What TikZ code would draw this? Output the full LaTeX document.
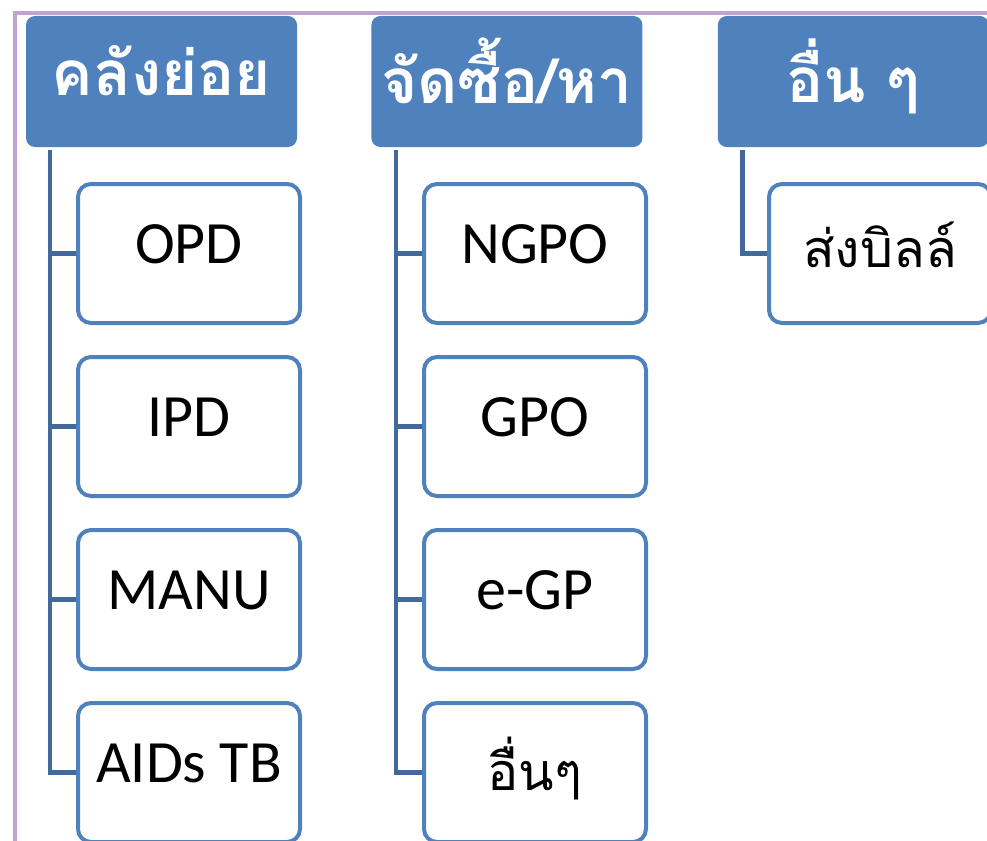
\documentclass[tikz,border=0pt]{standalone}
\usepackage{fontspec}
\setmainfont{Carlito}
\newfontfamily\thaifont[Script=Thai]{Loma}
\usetikzlibrary{positioning}
\definecolor{hdblue}{HTML}{4F81BD}
\definecolor{lnblue}{HTML}{41699C}
\definecolor{frame}{HTML}{BFA3D3}
\begin{document}
\begin{tikzpicture}[x=1pt, y=-1pt, node distance=30pt]
            % styles
            \tikzstyle{header} = [rectangle, rounded corners=9pt, minimum width=271pt, minimum height=131pt, text depth=22pt, fill=hdblue, text=white, font=\thaifont\bfseries\fontsize{62}{68}\selectfont]
            \tikzstyle{item} = [rectangle, rounded corners=13pt, minimum width=222pt, minimum height=139pt, text depth=18pt, draw=hdblue, line width=4pt, fill=white, font=\fontsize{60}{66}\selectfont]
            \tikzstyle{thaiitem} = [item, font=\thaifont\fontsize{52}{58}\selectfont]
            \tikzstyle{link} = [line width=4.5pt, draw=lnblue]

            \useasboundingbox (0,0) rectangle (987,840);
            \draw [frame, line width=4pt] (15,13) rectangle (1010,860);

            % headers
            \node (store) [header] at (161.5,81.5) {คลังย่อย};
            \node (buy) [header, right=74pt of store] {จัดซื้อ/หา};
            \node (misc) [header, right=75pt of buy] {อื่น ๆ};

            % items
            \node (opd) [item] at (189,253.5) {OPD};
            \node (ipd) [item, below=of opd] {IPD};
            \node (manu) [item, below=of ipd] {MANU};
            \node (aids) [item, below=of manu] {AIDs TB};

            \node (ngpo) [item] at (535,253.5) {NGPO};
            \node (gpo) [item, below=of ngpo] {GPO};
            \node (egp) [item, below=of gpo] {e-GP};
            \node (other) [thaiitem, below=of egp] {อื่นๆ};

            \node (bill) [thaiitem] at (880,253.5) {ส่งบิลล์};

            % trunks
            \coordinate (storetrunk) at ([xshift=24pt, yshift=-3pt]store.south west);
            \coordinate (buytrunk) at ([xshift=25pt, yshift=-3pt]buy.south west);
            \coordinate (misctrunk) at ([xshift=25pt, yshift=-3pt]misc.south west);

            \foreach \n in {opd, ipd, manu, aids}
                \draw [link] (storetrunk) |- (\n.west);
            \foreach \n in {ngpo, gpo, egp, other}
                \draw [link] (buytrunk) |- (\n.west);
            \draw [link] (misctrunk) |- (bill.west);
        \end{tikzpicture}
\end{document}
